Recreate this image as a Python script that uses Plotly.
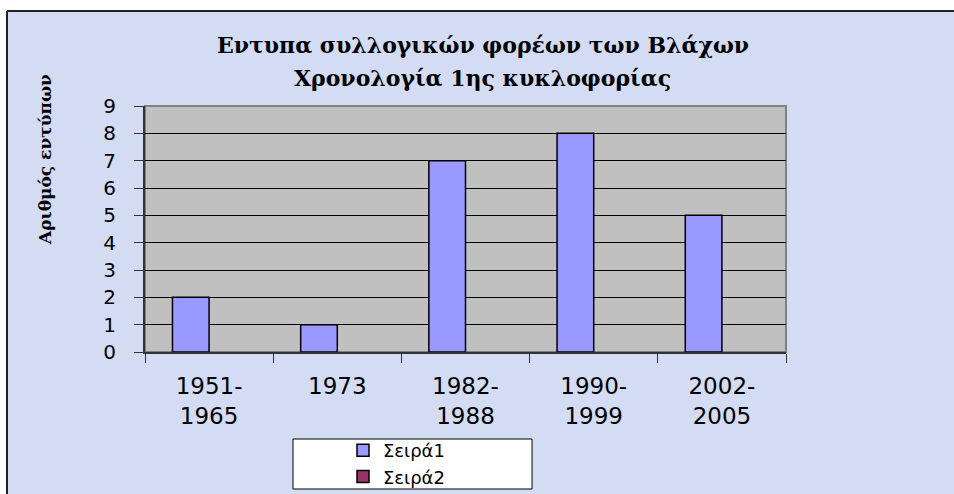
import plotly.graph_objects as go

categories = ["1951-<br>1965", "1973", "1982-<br>1988", "1990-<br>1999", "2002-<br>2005"]
series1 = [2, 1, 7, 8, 5]
series2 = [None, None, None, None, None]
series_names = ["Σειρά1", "Σειρά2"]
title_lines = ["Εντυπα συλλογικών φορέων των Βλάχων", "Χρονολογία 1ης κυκλοφορίας"]
y_title = "Αριθμός εντύπων"

W, H = 954, 494
PL, PR, PT, PB = 145, 786, 106, 352  # plot area in pixels
L, R, T, B = PL, W - PR, PT, H - PB
pw, ph = PR - PL, PB - PT

def px(x):
    return (x - PL) / pw

def py(y):
    return (PB - y) / ph

fig = go.Figure()
fig.add_trace(go.Bar(x=categories, y=series1, name=series_names[0],
                     marker=dict(color="#9999FF", line=dict(color="black", width=1.5))))
fig.add_trace(go.Bar(x=categories, y=series2, name=series_names[1],
                     marker=dict(color="#993366", line=dict(color="black", width=1.5))))

BG = "#D4DCF3"
shapes = [
    # white bands above / left of the chart frame
    dict(type="rect", xref="paper", yref="paper", x0=px(-5), x1=px(1000), y0=py(11), y1=py(-5),
         fillcolor="white", line=dict(width=0), layer="below"),
    dict(type="rect", xref="paper", yref="paper", x0=px(-5), x1=px(7), y0=py(1000), y1=py(-5),
         fillcolor="white", line=dict(width=0), layer="below"),
    # frame top and left edges
    dict(type="line", xref="paper", yref="paper", x0=px(7), x1=px(1000), y0=py(11), y1=py(11),
         line=dict(color="#222222", width=2), layer="below"),
    dict(type="line", xref="paper", yref="paper", x0=px(7), x1=px(7), y0=py(11), y1=py(1000),
         line=dict(color="#222222", width=2), layer="below"),
    # plot area border (gray top/right)
    dict(type="rect", xref="paper", yref="paper", x0=0, x1=1, y0=0, y1=1,
         fillcolor="rgba(0,0,0,0)", line=dict(color="#808080", width=2), layer="below"),
    # legend box
    dict(type="rect", xref="paper", yref="paper", x0=px(293), x1=px(532), y0=py(489), y1=py(439),
         fillcolor="white", line=dict(color="black", width=1), layer="above"),
]

annotations = [
    dict(text="<b>%s</b>" % title_lines[0], xref="paper", yref="paper", x=px(483), y=py(45),
         xanchor="center", yanchor="middle", showarrow=False,
         font=dict(family="DejaVu Serif", size=22, color="black")),
    dict(text="<b>%s</b>" % title_lines[1], xref="paper", yref="paper", x=px(483), y=py(78),
         xanchor="center", yanchor="middle", showarrow=False,
         font=dict(family="DejaVu Serif", size=22, color="black")),
    dict(text="<b>%s</b>" % y_title, textangle=-90, xref="paper", yref="paper",
         x=px(45), y=py(160), xanchor="center", yanchor="middle", showarrow=False,
         font=dict(family="DejaVu Serif", size=17, color="black")),
]

fig.update_layout(
    width=W, height=H,
    margin=dict(l=L, r=R, t=T, b=B, autoexpand=False),
    paper_bgcolor=BG,
    plot_bgcolor="#C0C0C0",
    barmode="group",
    bargap=0.4286,
    bargroupgap=0,
    shapes=shapes,
    annotations=annotations,
    showlegend=True,
    legend=dict(xref="container", yref="container", x=343 / W, y=1 - 432 / H,
                xanchor="left", yanchor="top",
                bgcolor="rgba(0,0,0,0)", borderwidth=0,
                font=dict(family="DejaVu Sans", size=18, color="black"),
                tracegroupgap=0, itemwidth=30),
)

fig.update_yaxes(range=[0, 9], dtick=1, showgrid=True, gridcolor="black", gridwidth=1,
                 showline=True, linecolor="#333333", linewidth=2,
                 ticks="outside", ticklen=9, tickcolor="#333333", tickwidth=1,
                 tickfont=dict(family="DejaVu Sans", size=20, color="black"),
                 ticklabelstandoff=14, zeroline=False)
fig.update_xaxes(showgrid=False, showline=True, linecolor="#333333", linewidth=2,
                 ticks="outside", ticklen=9, tickcolor="#333333", tickwidth=1,
                 tickson="boundaries",
                 tickfont=dict(family="DejaVu Sans", size=23, color="black"),
                 ticklabelstandoff=12)

fig.write_html("out.html", config={"displayModeBar": False},
               post_script="document.body.style.margin='0';document.body.style.overflow='hidden';")
